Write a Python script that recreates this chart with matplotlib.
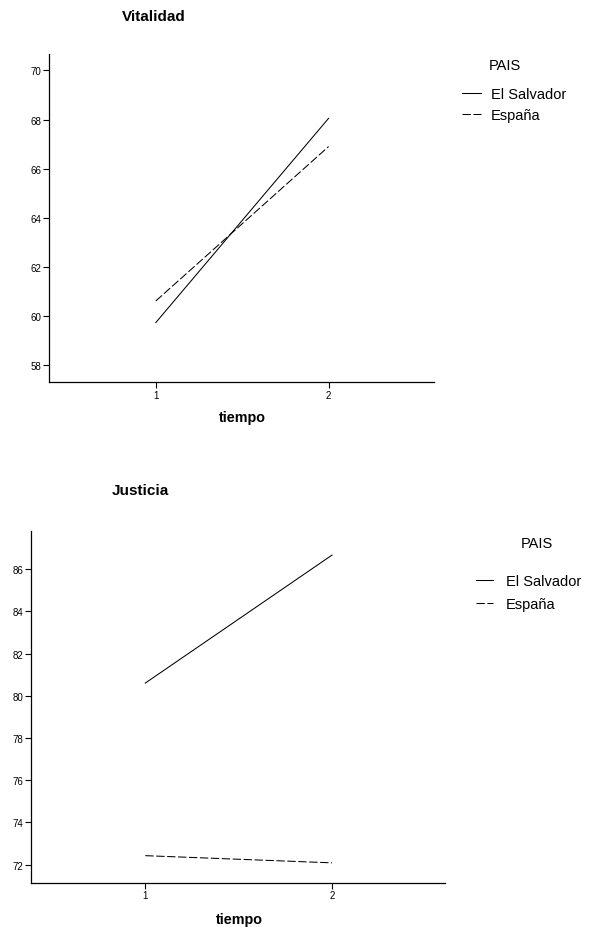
import matplotlib
matplotlib.use("Agg")
import matplotlib.pyplot as plt

plt.rcParams["font.family"] = ["Liberation Sans", "DejaVu Sans"]

# Marginal means per country at each time point
tiempo = [1, 2]
paises = ["El Salvador", "España"]
vitalidad = {
    "El Salvador": [59.73, 68.05],
    "España": [60.61, 66.90],
}
justicia = {
    "El Salvador": [80.60, 86.66],
    "España": [72.43, 72.09],
}

vit_ticks = [58, 60, 62, 64, 66, 68, 70]
jus_ticks = [72, 74, 76, 78, 80, 82, 84, 86]

STYLES = {
    "El Salvador": dict(ls="-"),
    "España": dict(ls=(0, (8, 2.5))),
}

W, H = 590, 928
fig = plt.figure(figsize=(W / 100, H / 100), dpi=100)


def panel(rect, data, yticks, ylim, xlim, title, title_xy, xlabel_xy, leg):
    ax = fig.add_axes(rect)
    for p in paises:
        ax.plot(tiempo, data[p], color="black", lw=0.75, label=p, **STYLES[p])
    ax.set_xlim(*xlim)
    ax.set_ylim(*ylim)
    ax.set_xticks(tiempo)
    ax.set_yticks(yticks)
    ax.tick_params(labelsize=7, length=4.5, width=0.8, pad=1, colors="black")
    for s in ("top", "right"):
        ax.spines[s].set_visible(False)
    for s in ("left", "bottom"):
        ax.spines[s].set_linewidth(0.9)
    fig.text(title_xy[0] / W, 1 - title_xy[1] / H, title,
             ha="center", va="center", fontsize=11, fontweight="bold")
    fig.text(xlabel_xy[0] / W, 1 - xlabel_xy[1] / H, "tiempo",
             ha="center", va="center", fontsize=10.4, fontweight="bold")
    lg = ax.legend(title="PAIS", loc="upper left", frameon=False,
                   bbox_to_anchor=(leg["x"] / W, 1 - leg["y"] / H),
                   bbox_transform=fig.transFigure, fontsize=10.5,
                   title_fontsize=10.5, handlelength=leg["hl"],
                   handletextpad=leg["pad"], labelspacing=leg["ls"],
                   borderpad=0, borderaxespad=0)
    lg._legend_box.sep = leg["sep"]
    lg._legend_box.align = "left"
    lg.get_title().set_position((leg["shift"], 0))
    return ax


panel([49 / W, (H - 383) / H, 385 / W, 328 / H],
      vitalidad, vit_ticks, (57.31, 70.67), (0.382, 2.61),
      "Vitalidad", (154, 17), (242, 418),
      dict(x=461.5, y=59, hl=1.35, pad=0.68, ls=0.45, sep=11, shift=27))
panel([31 / W, (H - 883.7) / H, 414 / W, 351.7 / H],
      justicia, jus_ticks, (71.15, 87.8), (0.388, 2.605),
      "Justicia", (140, 491), (239, 920),
      dict(x=475.5, y=536.5, hl=1.2, pad=0.9, ls=0.6, sep=18, shift=45))

fig.savefig("out.png", dpi=100)
